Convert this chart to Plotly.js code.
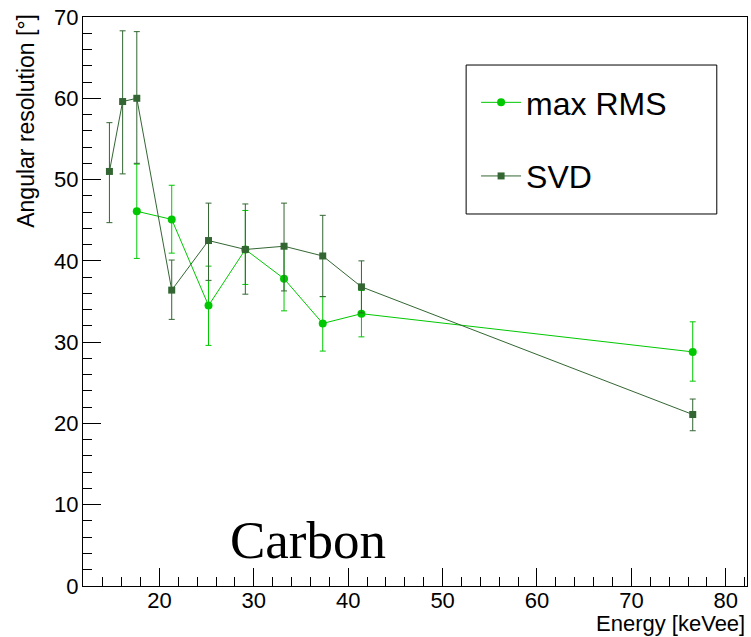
<!DOCTYPE html>
<html>
<head>
<meta charset="utf-8">
<script src="https://cdn.plot.ly/plotly-3.0.1.min.js"></script>
<style>html,body{margin:0;padding:0;background:#fff;}#chart{width:751px;height:637px;}</style>
</head>
<body>
<div id="chart"></div>
<script>
// Energy [keVee]
const energySVD = [14.7, 16.1, 17.6, 21.3, 25.2, 29.1, 33.2, 37.3, 41.4, 76.5];
const resSVD = [51.0, 59.6, 60.0, 36.4, 42.5, 41.4, 41.8, 40.6, 36.8, 21.1];
const errSVDUp = [6.0, 8.7, 8.2, 3.7, 4.6, 5.6, 5.3, 5.0, 3.2, 1.9];
const errSVDDown = [6.3, 8.9, 8.0, 3.6, 4.9, 5.5, 5.5, 5.0, 3.2, 2.0];

const energyRMS = [17.6, 21.3, 25.2, 29.1, 33.2, 37.3, 41.4, 76.5];
const resRMS = [46.1, 45.1, 34.5, 41.4, 37.8, 32.3, 33.5, 28.8];
const errRMSUp = [5.8, 4.2, 4.85, 4.8, 4.0, 3.3, 2.85, 3.7];
const errRMSDown = [5.8, 4.15, 4.9, 4.3, 3.95, 3.4, 2.85, 3.6];

const seriesNames = ["max RMS", "SVD"];
const labelText = "Carbon";

const cRMS = "#00c800";
const cSVD = "#336633";

const traces = [
  {
    x: energyRMS, y: resRMS, name: seriesNames[0], type: "scatter", mode: "lines+markers",
    legendgroup: "a",
    line: {color: cRMS, width: 1},
    marker: {color: cRMS, symbol: "circle", size: 8},
    error_y: {type: "data", symmetric: false, array: errRMSUp, arrayminus: errRMSDown, color: cRMS, thickness: 1, width: 3}
  },
  {
    x: energySVD, y: resSVD, name: seriesNames[1], type: "scatter", mode: "lines+markers",
    legendgroup: "b",
    line: {color: cSVD, width: 1},
    marker: {color: cSVD, symbol: "square", size: 7},
    error_y: {type: "data", symmetric: false, array: errSVDUp, arrayminus: errSVDDown, color: cSVD, thickness: 1, width: 3}
  }
];

const axisFont = {family: "Liberation Sans, Arial, sans-serif", size: 22, color: "#000"};

const layout = {
  width: 751, height: 637,
  margin: {l: 83, r: 4, t: 17, b: 51, pad: 0},
  paper_bgcolor: "#fff", plot_bgcolor: "#fff",
  showlegend: true,
  legend: {
    x: 0.592, y: 0.898, xanchor: "left", yanchor: "top",
    bgcolor: "rgba(0,0,0,0)", borderwidth: 0, itemwidth: 40,
    font: {family: "Liberation Sans, Arial, sans-serif", size: 32, color: "#000"},
    traceorder: "grouped", tracegroupgap: 29
  },
  xaxis: {
    range: [11.9, 82.25], tick0: 0, dtick: 10,
    ticks: "inside", ticklen: 18, tickwidth: 1, tickcolor: "#000",
    minor: {dtick: 2, ticks: "inside", ticklen: 9, tickcolor: "#000", tickwidth: 1},
    showline: true, linecolor: "#000", linewidth: 1, mirror: true,
    showgrid: false, zeroline: false,
    tickfont: axisFont, ticklabelstandoff: -5
  },
  yaxis: {
    range: [0, 70], tick0: 0, dtick: 10,
    ticks: "inside", ticklen: 18, tickwidth: 1, tickcolor: "#000",
    minor: {dtick: 2, ticks: "inside", ticklen: 9, tickcolor: "#000", tickwidth: 1},
    showline: true, linecolor: "#000", linewidth: 1, mirror: true,
    showgrid: false, zeroline: false,
    tickfont: axisFont, ticklabelstandoff: -1
  },
  shapes: [
    {type: "rect", xref: "paper", yref: "paper", x0: 0.577, x1: 0.9545, y0: 0.6538, y1: 0.9156,
     line: {color: "#000", width: 1}, fillcolor: "rgba(0,0,0,0)", layer: "above"}
  ],
  annotations: [
    {text: "Angular resolution [°]", xref: "paper", yref: "paper", x: -0.086, y: 1.009,
     xanchor: "center", yanchor: "top", textangle: -90, showarrow: false,
     font: {family: "Liberation Sans, Arial, sans-serif", size: 23, color: "#000"}},
    {text: "Energy [keVee]", xref: "paper", yref: "paper", x: 1.0, y: -0.0914,
     xanchor: "right", yanchor: "bottom", showarrow: false,
     font: {family: "Liberation Sans, Arial, sans-serif", size: 22, color: "#000"}},
    {text: labelText, xref: "x", yref: "y", x: 35.7, y: 5.6,
     xanchor: "center", yanchor: "middle", showarrow: false,
     font: {family: "Liberation Serif, Times New Roman, serif", size: 53, color: "#000"}}
  ]
};

Plotly.newPlot("chart", traces, layout, {staticPlot: true, displayModeBar: false});
</script>
</body>
</html>
